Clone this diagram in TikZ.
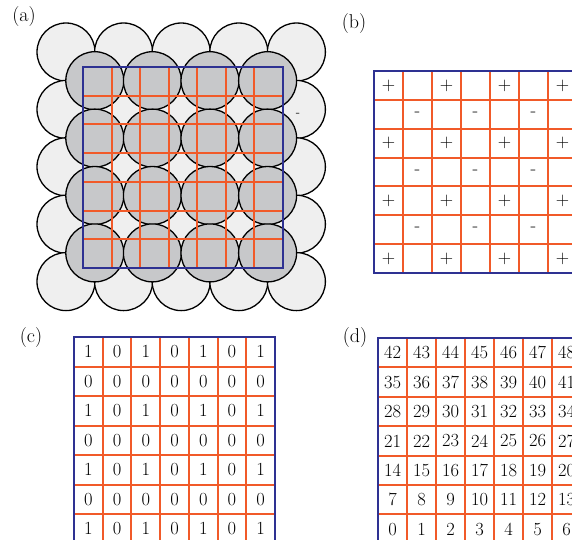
\documentclass[tikz,border=0pt]{standalone}
\usepackage{tikz}
\definecolor{frame}{HTML}{2E3192}
\definecolor{gridred}{HTML}{F15A29}
\definecolor{atomlight}{HTML}{EFEFEF}
\definecolor{atomdark}{HTML}{C7C8CA}

\begin{document}
\begin{tikzpicture}[x=1pt, y=-1pt,
  atomout/.style={draw=black, line width=1.3pt, fill=atomlight},
  atomin/.style={draw=black, line width=1.3pt, fill=atomdark},
  redline/.style={draw=gridred, line width=2pt},
  border/.style={draw=frame, line width=1.7pt},
  panel/.style={font=\fontsize{20}{24}\selectfont, inner sep=0pt},
  cell/.style={font=\fontsize{18.5}{22}\selectfont, inner sep=0pt}
]
  \useasboundingbox (0,0) rectangle (572,539);
  \clip (0,0) rectangle (572,539);

  % (a) close-packed atoms
  \foreach \i in {0,...,4}
    \foreach \j in {0,...,4}
      \draw[atomout] (66+57.6*\i, 52+57.4*\j) circle (29);
  \foreach \i in {0,...,3}
    \foreach \j in {0,...,3}
      \draw[atomin] (94.8+57.6*\i, 80.7+57.4*\j) circle (29);
  \foreach \k in {1,...,6} {
    \draw[redline] (83+200/7*\k, 67) -- (83+200/7*\k, 268);
    \draw[redline] (83, 67+201/7*\k) -- (283, 67+201/7*\k);
  }
  \draw[border] (83,67) rectangle (283,268);
  \node[panel] (lbl-a) at (24,17) {(a)};
  \node[font=\fontsize{13}{15}\selectfont, inner sep=0pt] (stray) at (298,115) {-};

  % (b) charges
  \foreach \k in {1,...,6} {
    \draw[redline] (374+29*\k, 71) -- (374+29*\k, 273);
    \draw[redline] (374, 71+202/7*\k) -- (580, 71+202/7*\k);
  }
  \draw[border] (374,71) rectangle (577,273);
  \foreach \r in {0,2,4,6}
    \foreach \c in {0,2,4,6}
      \node[cell] (sign-\r-\c) at (388.5+29*\c, 85.4+202/7*\r) {+};
  \foreach \r in {1,3,5}
    \foreach \c in {1,3,5}
      \node[cell] (sign-\r-\c) at (388.5+29*\c, 85.4+202/7*\r) {-};
  \node[panel] (lbl-b) at (354,24) {(b)};

  % (c) occupancy
  \foreach \k in {1,...,6} {
    \draw[redline] (74+201/7*\k, 337) -- (74+201/7*\k, 545);
    \draw[redline] (74, 337+29.5*\k) -- (275, 337+29.5*\k);
  }
  \draw[border] (74,545) -- (74,337) -- (275,337) -- (275,545);
  \foreach \r in {0,...,6}
    \foreach \c in {0,...,6} {
      \pgfmathtruncatemacro\bit{(1-mod(\r,2))*(1-mod(\c,2))}
      \node[cell] (bit-\r-\c) at (88.4+201/7*\c, 351.8+29.5*\r) {\bit};
    }
  \node[panel] (lbl-c) at (31,337) {(c)};

  % (d) site index
  \foreach \k in {1,...,6} {
    \draw[redline] (378+29*\k, 338) -- (378+29*\k, 545);
    \draw[redline] (378, 338+29.4*\k) -- (580, 338+29.4*\k);
  }
  \draw[border] (378,545) -- (378,338) -- (580,338);
  \foreach \r in {0,...,6}
    \foreach \c in {0,...,6} {
      \pgfmathtruncatemacro\idx{7*(6-\r)+\c}
      \node[cell] (idx-\r-\c) at (392.5+29*\c, 352.7+29.4*\r) {\idx};
    }
  \node[panel] (lbl-d) at (355,337) {(d)};
\end{tikzpicture}
\end{document}
